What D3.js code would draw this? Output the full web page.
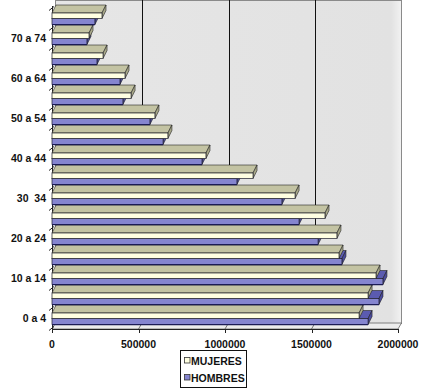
<!DOCTYPE html>
<html>
<head>
<meta charset="utf-8">
<script src="https://cdn.jsdelivr.net/npm/d3@7"></script>
<style>
  html, body { margin: 0; padding: 0; background: #fff; }
  svg { display: block; }
  text { font-family: "Liberation Sans", Arial, sans-serif; font-weight: bold; white-space: pre; }
</style>
</head>
<body>
<svg id="chart" width="428" height="391"></svg>
<script>
// ---- Data ----
const categories = ["0 a 4","5 a 9","10 a 14","15 a 19","20 a 24","25 a 29","30  34","35 a 39",
                    "40 a 44","45 a 49","50 a 54","55 a 59","60 a 64","65 a 69","70 a 74","75 y más"];
const yTickLabels = ["0 a 4","10 a 14","20 a 24","30  34","40 a 44","50 a 54","60 a 64","70 a 74"];
const mujeres = [1775000, 1827000, 1873000, 1659000, 1647000, 1578000, 1405000, 1162000,
                 890000, 670000, 595000, 457000, 422000, 295000, 214000, 289000];
const hombres = [1827000, 1890000, 1913000, 1676000, 1538000, 1428000, 1329000, 1069000,
                 867000, 642000, 566000, 410000, 393000, 260000, 202000, 248000];
const xTicks = [0, 500000, 1000000, 1500000, 2000000];
const seriesNames = ["MUJERES", "HOMBRES"];

// ---- Layout ----
const svg = d3.select("#chart");
const x = d3.scaleLinear().domain([0, 2000000]).range([52, 398]);
const y = d3.scaleBand().domain(categories.slice().reverse()).range([9, 329]).padding(0);
const wdx = 3.5, wdy = 6;   // wall depth projection
const bdx = 4, bdy = 8;     // bar depth projection
const floorY = 329;
const crisp = v => Math.round(v) + 0.5;

// back wall
const wallG = svg.append("g");
const grad = svg.append("defs").append("linearGradient").attr("id", "wallGrad")
  .attr("x1", "0").attr("x2", "1").attr("y1", "0").attr("y2", "0");
grad.append("stop").attr("offset", "0").attr("stop-color", "#e6e6e6");
grad.append("stop").attr("offset", "0.97").attr("stop-color", "#e2e2e2");
grad.append("stop").attr("offset", "1").attr("stop-color", "#f2f2f2");
wallG.append("rect")
  .attr("x", x(0) + wdx).attr("y", 0.5)
  .attr("width", x(2000000) - x(0)).attr("height", floorY - wdy)
  .attr("fill", "url(#wallGrad)").attr("stroke", "#8a8a8a").attr("stroke-width", 1);

// floor
const floorPts = [[x(0), floorY], [x(2000000), floorY], [x(2000000) + wdx, floorY - wdy], [x(0) + wdx, floorY - wdy]];
wallG.append("polygon").attr("points", floorPts.map(p => p.join(",")).join(" "))
  .attr("fill", "#ececec").attr("stroke", "#666").attr("stroke-width", 0.8);

// gridlines on wall + floor
xTicks.slice(1, -1).forEach(v => {
  wallG.append("line").attr("x1", crisp(x(v) + wdx)).attr("x2", crisp(x(v) + wdx))
    .attr("y1", 0).attr("y2", floorY - wdy).attr("stroke", "#111").attr("stroke-width", 1);
  wallG.append("line").attr("x1", x(v)).attr("x2", x(v) + wdx)
    .attr("y1", floorY).attr("y2", floorY - wdy).attr("stroke", "#555").attr("stroke-width", 0.8);
});

// left axis line
wallG.append("line").attr("x1", crisp(x(0))).attr("x2", crisp(x(0))).attr("y1", 6).attr("y2", floorY)
  .attr("stroke", "#222").attr("stroke-width", 1);

// ---- Bars ----
const colors = {
  MUJERES: { front: "#ffffe2", top: "#c3c3a3", end: "#a9a98a" },
  HOMBRES: { front: "#8585cf", top: "#5b5bb0", end: "#4b4b9e" }
};
const barsG = svg.append("g");
function pts(a) { return a.map(p => p.join(",")).join(" "); }
function drawBar(v, ya, yb, c) {
  const x0 = x(0), x1 = x(v);
  const g = barsG.append("g");
  g.append("polygon").attr("points", pts([[x0, ya], [x1, ya], [x1 + bdx, ya - bdy], [x0 + bdx, ya - bdy]]))
    .attr("fill", c.top).attr("stroke", "#222").attr("stroke-width", 0.6).attr("stroke-linejoin", "round");
  g.append("polygon").attr("points", pts([[x1, ya], [x1 + bdx, ya - bdy], [x1 + bdx, yb - bdy], [x1, yb]]))
    .attr("fill", c.end).attr("stroke", "#222").attr("stroke-width", 0.6).attr("stroke-linejoin", "round");
  g.append("rect").attr("x", x0).attr("y", ya).attr("width", x1 - x0).attr("height", yb - ya)
    .attr("fill", c.front).attr("stroke", "#1a1a2a").attr("stroke-width", 0.7);
  return g;
}
// paint bottom category first so upper bars cover hidden top faces
categories.forEach((cat, i) => {
  const T = y(cat);
  drawBar(hombres[i], T + 9.5, T + 15.5, colors.HOMBRES);
  barsG.append("line").attr("x1", x(0)).attr("x2", x(hombres[i]))
    .attr("y1", T + 15.6).attr("y2", T + 15.6).attr("stroke", "#1c1c55").attr("stroke-width", 1.4);
  drawBar(mujeres[i], T + 4, T + 9.5, colors.MUJERES);
});

// y ticks (slanted 3D marks) and labels
const yAxisG = svg.append("g");
categories.forEach(cat => {
  const T = y(cat);
  yAxisG.append("line").attr("x1", x(0) - 3).attr("y1", T + 20 + 1.5)
    .attr("x2", x(0) + 2).attr("y2", T + 20 - 2.5).attr("stroke", "#222").attr("stroke-width", 1);
});
yAxisG.append("line").attr("x1", x(0) - 3).attr("y1", y(categories[categories.length - 1]) + 1.5)
  .attr("x2", x(0) + 2).attr("y2", y(categories[categories.length - 1]) - 2.5).attr("stroke", "#222");
yTickLabels.forEach(lbl => {
  yAxisG.append("text").attr("x", 46).attr("y", y(lbl) + 8.5)
    .attr("text-anchor", "end").attr("dominant-baseline", "central")
    .attr("font-size", "10.5px").attr("fill", "#111").text(lbl);
});

// x axis
const xAxisG = svg.append("g");
xAxisG.append("line").attr("x1", x(0)).attr("x2", x(2000000)).attr("y1", floorY + 0.5).attr("y2", floorY + 0.5)
  .attr("stroke", "#222").attr("stroke-width", 1);
xTicks.forEach(v => {
  xAxisG.append("line").attr("x1", crisp(x(v))).attr("x2", crisp(x(v))).attr("y1", floorY).attr("y2", floorY + 4)
    .attr("stroke", "#222").attr("stroke-width", 1);
  xAxisG.append("text").attr("x", x(v)).attr("y", 344).attr("text-anchor", "middle")
    .attr("dominant-baseline", "central").attr("font-size", "10.5px").attr("fill", "#111").text(v);
});

// legend
const lg = svg.append("g");
lg.append("rect").attr("x", 180.5).attr("y", 350.5).attr("width", 66).attr("height", 37)
  .attr("fill", "#fff").attr("stroke", "#111").attr("stroke-width", 1);
const legendColors = [colors.MUJERES.front, colors.HOMBRES.front];
seriesNames.forEach((name, i) => {
  const cy = 360.5 + i * 17;
  lg.append("rect").attr("x", 184.5).attr("y", cy - 3).attr("width", 5.5).attr("height", 5.5)
    .attr("fill", legendColors[i]).attr("stroke", "#333").attr("stroke-width", 0.8);
  lg.append("text").attr("x", 191).attr("y", cy).attr("dominant-baseline", "central")
    .attr("font-size", "10.5px").attr("fill", "#111").text(name);
});
</script>
</body>
</html>
